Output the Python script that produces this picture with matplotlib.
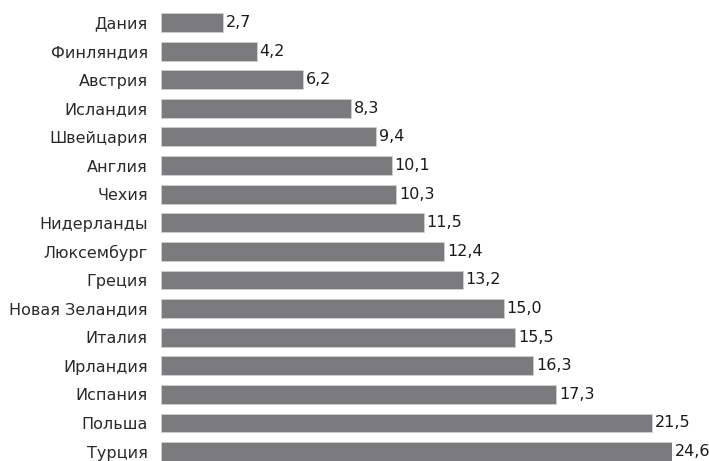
import matplotlib
matplotlib.use('Agg')
import matplotlib.pyplot as plt
import numpy as np

countries = ['Дания', 'Финляндия', 'Австрия', 'Исландия', 'Швейцария', 'Англия',
             'Чехия', 'Нидерланды', 'Люксембург', 'Греция', 'Новая Зеландия',
             'Италия', 'Ирландия', 'Испания', 'Польша', 'Турция']
values = [2.7, 4.2, 6.2, 8.3, 9.4, 10.1, 10.3, 11.5, 12.4, 13.2, 15.0,
          15.5, 16.3, 17.3, 21.5, 24.6]

plt.rcParams['font.family'] = ['Liberation Sans Narrow', 'DejaVu Sans']

W, H = 709, 461
fig = plt.figure(figsize=(W / 100, H / 100), dpi=100)
ax = fig.add_axes([161 / W, 0, (672 - 161) / W, 1])

# the widest bar is cut at the right edge, as in the source
xmax = 511 / 22.85
y = np.arange(len(countries))
ax.barh(y, values, height=0.66, color='#7b7b7d', edgecolor='#d0d0d0', linewidth=0.6)

ax.set_xlim(0, xmax)
ax.set_ylim(15.33, -0.787)
ax.set_yticks(y)
ax.set_yticklabels(countries, fontsize=11.5, color='#2a2a2a')
ax.tick_params(axis='y', length=0, pad=9.5)
ax.set_xticks([])
for s in ax.spines.values():
    s.set_visible(False)

for yi, v in zip(y, values):
    ax.annotate(f'{v:.1f}'.replace('.', ','), (min(v, xmax), yi),
                xytext=(2, 0), textcoords='offset points',
                ha='left', va='center', fontsize=11.5, color='#1a1a1a',
                annotation_clip=False)

plt.savefig('out.png', dpi=100)
